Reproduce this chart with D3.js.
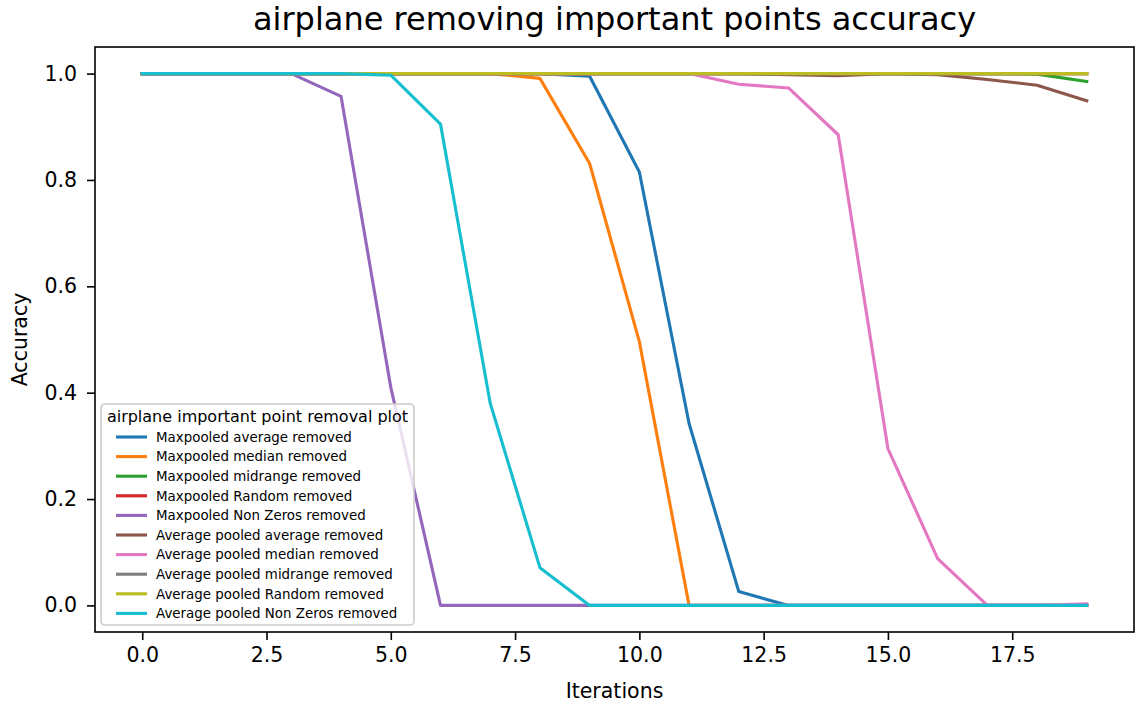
<!DOCTYPE html>
<html>
<head>
<meta charset="utf-8">
<script src="https://cdn.jsdelivr.net/npm/d3@7"></script>
<style>
  html, body { margin: 0; padding: 0; background: #fff; }
  svg { display: block; font-family: 'DejaVu Sans', sans-serif; }
</style>
</head>
<body>
<div id="chart"></div>
<script>
// ── data ─────────────────────────────────────────────
const iterations = d3.range(0, 20);

const seriesNames = [
  'Maxpooled average removed',
  'Maxpooled median removed',
  'Maxpooled midrange removed',
  'Maxpooled Random removed',
  'Maxpooled Non Zeros removed',
  'Average pooled average removed',
  'Average pooled median removed',
  'Average pooled midrange removed',
  'Average pooled Random removed',
  'Average pooled Non Zeros removed',
];

const maxAverage   = [1, 1, 1, 1, 1, 1, 1, 1, 1, 0.995, 0.815, 0.342, 0.026, 0, 0, 0, 0, 0, 0, 0];
const maxMedian    = [1, 1, 1, 1, 1, 1, 1, 1, 0.991, 0.831, 0.496, 0, 0, 0, 0, 0, 0, 0, 0, 0];
const maxMidrange  = [1, 1, 1, 1, 1, 1, 1, 1, 1, 1, 1, 1, 1, 1, 1, 1, 1, 1, 0.999, 0.985];
const maxRandom    = [1, 1, 1, 1, 1, 1, 1, 1, 1, 1, 1, 1, 1, 1, 1, 1, 1, 1, 1, 1];
const maxNonZeros  = [1, 1, 1, 1, 0.957, 0.41, 0, 0, 0, 0, 0, 0, 0, 0, 0, 0, 0, 0, 0, 0];
const avgAverage   = [1, 1, 1, 1, 1, 1, 1, 1, 1, 1, 1, 1, 1, 0.998, 0.996, 1, 0.998, 0.989, 0.978, 0.949];
const avgMedian    = [1, 1, 1, 1, 1, 1, 1, 1, 1, 1, 1, 1, 0.98, 0.973, 0.885, 0.295, 0.088, 0, 0, 0.003];
const avgMidrange  = [1, 1, 1, 1, 1, 1, 1, 1, 1, 1, 1, 1, 1, 1, 1, 1, 1, 1, 1, 1];
const avgRandom    = [1, 1, 1, 1, 1, 1, 1, 1, 1, 1, 1, 1, 1, 1, 1, 1, 1, 1, 1, 1];
const avgNonZeros  = [1, 1, 1, 1, 1, 0.997, 0.905, 0.38, 0.071, 0, 0, 0, 0, 0, 0, 0, 0, 0, 0, 0];

const seriesValues = [
  maxAverage, maxMedian, maxMidrange, maxRandom, maxNonZeros,
  avgAverage, avgMedian, avgMidrange, avgRandom, avgNonZeros,
];

const xTicks = [0, 2.5, 5, 7.5, 10, 12.5, 15, 17.5];
const yTicks = [0, 0.2, 0.4, 0.6, 0.8, 1.0];

const COLORS = ['#1f77b4', '#ff7f0e', '#2ca02c', '#d62728', '#9467bd',
                '#8c564b', '#e377c2', '#7f7f7f', '#bcbd22', '#17becf'];

// ── layout ───────────────────────────────────────────
const W = 1136, H = 704;
const plot = { left: 95, right: 1134, top: 47, bottom: 632 };

const svg = d3.select('#chart').append('svg')
  .attr('width', W).attr('height', H);

const x = d3.scaleLinear().domain([-0.95, 19.95]).range([plot.left, plot.right]);
const y = d3.scaleLinear().domain([-0.05, 1.05]).range([plot.bottom, plot.top]);

// ── lines ────────────────────────────────────────────
const lineGen = d3.line()
  .x((d, i) => x(iterations[i]))
  .y(d => y(d));

svg.append('clipPath').attr('id', 'plot-clip')
  .append('rect')
  .attr('x', plot.left).attr('y', plot.top)
  .attr('width', plot.right - plot.left).attr('height', plot.bottom - plot.top);

svg.append('g').attr('clip-path', 'url(#plot-clip)')
  .selectAll('path')
  .data(seriesValues)
  .join('path')
  .attr('d', d => lineGen(d))
  .attr('fill', 'none')
  .attr('stroke', (d, i) => COLORS[i])
  .attr('stroke-width', 3.1)
  .attr('stroke-linecap', 'square')
  .attr('stroke-linejoin', 'round');

// ── axes ─────────────────────────────────────────────
const xAxis = svg.append('g')
  .attr('transform', `translate(0,${plot.bottom})`)
  .call(d3.axisBottom(x).tickValues(xTicks).tickFormat(d3.format('.1f'))
    .tickSizeOuter(0).tickSize(8).tickPadding(7));

const yAxis = svg.append('g')
  .attr('transform', `translate(${plot.left},0)`)
  .call(d3.axisLeft(y).tickValues(yTicks).tickFormat(d3.format('.1f'))
    .tickSizeOuter(0).tickSize(8).tickPadding(10));

[xAxis, yAxis].forEach(a => {
  a.select('.domain').remove();
  a.selectAll('.tick line').attr('stroke', '#000').attr('stroke-width', 1.6);
  a.selectAll('.tick text')
    .attr('fill', '#000')
    .attr('font-family', "'DejaVu Sans', sans-serif")
    .attr('font-size', '20.5px');
});

// spines
svg.append('rect')
  .attr('x', plot.left).attr('y', plot.top)
  .attr('width', plot.right - plot.left).attr('height', plot.bottom - plot.top)
  .attr('fill', 'none').attr('stroke', '#000').attr('stroke-width', 1.6);

// ── titles ───────────────────────────────────────────
svg.append('text')
  .attr('x', (plot.left + plot.right) / 2).attr('y', 30)
  .attr('text-anchor', 'middle')
  .attr('font-size', '32px')
  .text('airplane removing important points accuracy');

svg.append('text')
  .attr('x', (plot.left + plot.right) / 2).attr('y', 698)
  .attr('text-anchor', 'middle')
  .attr('font-size', '20.5px')
  .text('Iterations');

svg.append('text')
  .attr('transform', `translate(27,${(plot.top + plot.bottom) / 2}) rotate(-90)`)
  .attr('text-anchor', 'middle')
  .attr('font-size', '20.5px')
  .text('Accuracy');

// ── legend ───────────────────────────────────────────
const lg = svg.append('g').attr('transform', 'translate(101,404)');
lg.append('rect')
  .attr('width', 313).attr('height', 221)
  .attr('rx', 4).attr('ry', 4)
  .attr('fill', '#fff').attr('fill-opacity', 0.8)
  .attr('stroke', '#cccccc').attr('stroke-width', 1.6);

lg.append('text')
  .attr('x', 156.5).attr('y', 18)
  .attr('text-anchor', 'middle')
  .attr('font-size', '16px')
  .text('airplane important point removal plot');

const rows = lg.selectAll('g.row')
  .data(seriesNames)
  .join('g')
  .attr('class', 'row')
  .attr('transform', (d, i) => `translate(0,${33 + i * 19.6})`);

rows.append('line')
  .attr('x1', 15).attr('x2', 46)
  .attr('stroke', (d, i) => COLORS[i])
  .attr('stroke-width', 3.1);

rows.append('text')
  .attr('x', 55).attr('y', 0).attr('dy', '0.35em')
  .attr('font-size', '13.4px')
  .text(d => d);
</script>
</body>
</html>
